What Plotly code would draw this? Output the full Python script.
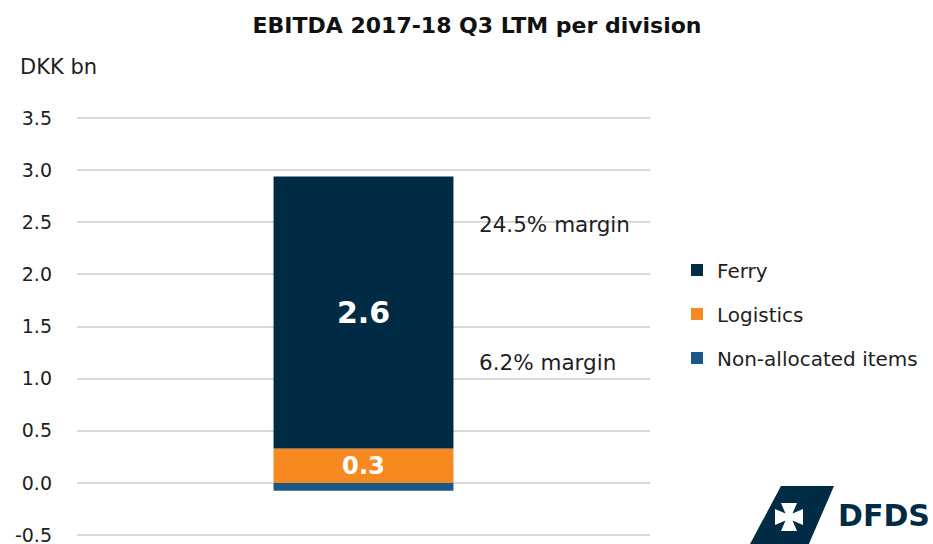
import plotly.graph_objects as go

category = ["EBITDA"]
series_names = ["Non-allocated items", "Logistics", "Ferry"]
series_values = [[-0.075], [0.33], [2.61]]
series_labels = ["", "0.3", "2.6"]
series_colors = ["#1a5888", "#f68a20", "#002b44"]
legend_ranks = [3, 2, 1]
tick_vals = [-0.5, 0.0, 0.5, 1.0, 1.5, 2.0, 2.5, 3.0, 3.5]
tick_text = ["-0.5", "0.0", "0.5", "1.0", "1.5", "2.0", "2.5", "3.0", "3.5"]
margin_notes = ["24.5% margin", "6.2% margin"]
margin_note_y = [2.48, 1.16]

W, H = 933, 544
ML, MR, MT, MB = 77, 283, 116, 0
PW, PH = W - ML - MR, H - MT - MB
FONT = "DejaVu Sans"
NAVY = "#002b44"
TXT = "#1e1e1e"

def px(x):
    return (x - ML) / PW

def py(y):
    return (H - MB - y) / PH

fig = go.Figure()
label_sizes = [10, 29, 30]
for i, name in enumerate(series_names):
    fig.add_trace(go.Bar(
        x=category, y=series_values[i], name=name,
        marker=dict(color=series_colors[i], line=dict(width=0)),
        width=0.314,
        text=[series_labels[i]], textposition="inside", insidetextanchor="middle",
        textfont=dict(color="white", size=label_sizes[i], family=FONT, weight="bold"),
        legendrank=legend_ranks[i], legendgroup=name, hoverinfo="skip",
    ))

for note, yv in zip(margin_notes, margin_note_y):
    fig.add_annotation(x=px(477), y=yv, xref="paper", yref="y", text=note,
                       showarrow=False, xanchor="left", yanchor="middle",
                       font=dict(size=21.5, color=TXT, family=FONT))

fig.add_annotation(x=px(18), y=py(67), xref="paper", yref="paper", text="DKK bn",
                   showarrow=False, xanchor="left", yanchor="middle",
                   font=dict(size=21, color=TXT, family=FONT))

# Logo
fig.add_shape(type="path", xref="paper", yref="paper",
              path=f"M {px(781)} {py(486)} L {px(834)} {py(486)} L {px(808)} {py(546)} L {px(749)} {py(546)} Z",
              fillcolor=NAVY, line=dict(width=0), layer="above")
cx, cy, L, w1, w2 = 789, 517, 14, 3.5, 8
pts = [(cx - w2, cy - L), (cx + w2, cy - L), (cx + w1, cy - w1), (cx + L, cy - w2), (cx + L, cy + w2),
       (cx + w1, cy + w1), (cx + w2, cy + L), (cx - w2, cy + L), (cx - w1, cy + w1), (cx - L, cy + w2),
       (cx - L, cy - w2), (cx - w1, cy - w1)]
path = "M " + " L ".join(f"{px(a)} {py(b)}" for a, b in pts) + " Z"
fig.add_shape(type="path", xref="paper", yref="paper", path=path,
              fillcolor="white", line=dict(width=0), layer="above")
fig.add_annotation(x=px(836), y=py(515), xref="paper", yref="paper", text="<b>DFDS</b>",
                   showarrow=False, xanchor="left", yanchor="middle",
                   font=dict(size=30, color=NAVY, family=FONT))

fig.update_layout(
    width=W, height=H, barmode="relative",
    margin=dict(l=ML, r=MR, t=MT, b=MB),
    paper_bgcolor="white", plot_bgcolor="white",
    title=dict(text="<b>EBITDA 2017-18 Q3 LTM per division</b>", x=477 / W, xanchor="center",
               xref="container", y=1 - 25 / H, yanchor="middle",
               font=dict(size=22, color="#111111", family=FONT)),
    font=dict(family=FONT, color=TXT),
    xaxis=dict(showticklabels=False, showgrid=False, zeroline=False, range=[-0.5, 0.5], fixedrange=True),
    yaxis=dict(range=[-0.586, 3.52], tickvals=tick_vals, ticktext=tick_text,
               showgrid=True, gridcolor="#d9d9d9", gridwidth=2, zeroline=True,
               zerolinecolor="#d9d9d9", zerolinewidth=2, ticklabelstandoff=24,
               ticklabeloverflow="allow", automargin=False,
               tickfont=dict(size=19, color=TXT, family=FONT), ticks=""),
    legend=dict(x=px(677), y=py(314), xanchor="left", yanchor="middle",
                traceorder="grouped", tracegroupgap=15,
                font=dict(size=20, color=TXT, family=FONT)),
    showlegend=True,
)

fig.write_html("out.html", config={"displayModeBar": False},
               post_script="document.body.style.margin='0px';")
